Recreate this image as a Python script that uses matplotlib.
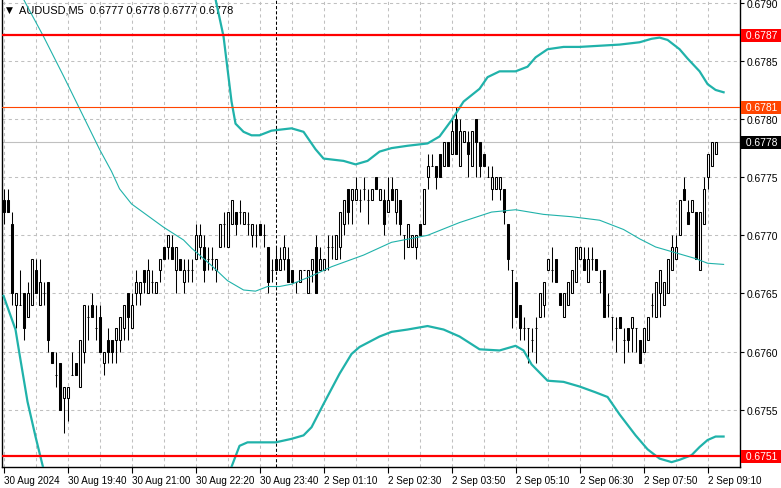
import matplotlib
matplotlib.use("Agg")
import matplotlib.pyplot as plt
import matplotlib.transforms as mtransforms

plt.rcParams['font.family'] = ['Liberation Sans', 'DejaVu Sans']

# OHLC of each 5-minute bar, in units of 0.0001
opens = [6773, 6773, 6771, 6764, 6764, 6765, 6763, 6764, 6767, 6764,
         6765, 6766, 6760, 6758, 6759, 6756, 6756, 6758, 6759, 6757,
         6760, 6763, 6764, 6762, 6763, 6759, 6761, 6761, 6761, 6761,
         6762, 6765, 6762, 6765, 6765, 6767, 6765, 6766, 6765, 6767,
         6769, 6769, 6769, 6767, 6768, 6766, 6767, 6767, 6768, 6769,
         6769, 6768, 6768, 6767, 6769, 6771, 6769, 6771, 6772, 6772,
         6771, 6771, 6770, 6770, 6771, 6770, 6769, 6767, 6768, 6767,
         6768, 6768, 6767, 6766, 6766, 6767, 6765, 6767, 6769, 6767,
         6767, 6769, 6769, 6768, 6769, 6771, 6774, 6773, 6773, 6773,
         6774, 6773, 6773, 6775, 6773, 6773, 6772, 6774, 6772, 6773,
         6770, 6769, 6769, 6769, 6771, 6771, 6775, 6776, 6776, 6777,
         6776, 6778, 6777, 6780, 6776, 6778, 6778, 6776, 6780, 6778,
         6777, 6775, 6774, 6774, 6774, 6774, 6771, 6767, 6766, 6764,
         6762, 6762, 6761, 6762, 6763, 6764, 6767, 6767, 6768, 6765,
         6763, 6764, 6765, 6766, 6768, 6768, 6766, 6768, 6768, 6766,
         6767, 6764, 6763, 6762, 6763, 6761, 6762, 6762, 6762, 6761,
         6760, 6761, 6764, 6763, 6765, 6764, 6765, 6767, 6768, 6770,
         6774, 6772, 6772, 6772, 6767, 6771, 6775, 6776, 6777]
highs = [6774, 6774, 6772, 6765, 6767, 6765, 6766, 6768, 6768, 6768,
         6766, 6766, 6760, 6760, 6759, 6757, 6757, 6760, 6759, 6761,
         6764, 6764, 6765, 6764, 6764, 6760, 6762, 6761, 6762, 6763,
         6764, 6765, 6765, 6767, 6766, 6767, 6768, 6767, 6766, 6768,
         6769, 6770, 6770, 6769, 6768, 6768, 6768, 6768, 6771, 6771,
         6770, 6769, 6769, 6768, 6771, 6772, 6772, 6773, 6772, 6773,
         6772, 6772, 6771, 6771, 6771, 6771, 6769, 6768, 6769, 6769,
         6770, 6769, 6767, 6766, 6767, 6767, 6767, 6768, 6770, 6769,
         6768, 6770, 6770, 6770, 6772, 6773, 6774, 6774, 6775, 6774,
         6775, 6774, 6774, 6775, 6774, 6774, 6775, 6775, 6774, 6773,
         6770, 6771, 6770, 6770, 6771, 6774, 6777, 6777, 6776, 6777,
         6778, 6778, 6780, 6781, 6780, 6779, 6779, 6779, 6780, 6778,
         6777, 6776, 6776, 6775, 6775, 6774, 6771, 6767, 6766, 6764,
         6763, 6762, 6762, 6763, 6765, 6766, 6768, 6769, 6768, 6765,
         6765, 6766, 6767, 6769, 6769, 6769, 6769, 6769, 6768, 6767,
         6767, 6765, 6763, 6763, 6763, 6762, 6762, 6763, 6762, 6761,
         6762, 6763, 6765, 6766, 6767, 6766, 6768, 6770, 6770, 6773,
         6775, 6773, 6773, 6772, 6772, 6775, 6777, 6778, 6778]
lows = [6771, 6772, 6764, 6762, 6764, 6761, 6763, 6764, 6765, 6764,
        6764, 6760, 6759, 6757, 6755, 6753, 6754, 6758, 6758, 6757,
        6759, 6761, 6763, 6761, 6760, 6758, 6759, 6759, 6759, 6760,
        6761, 6761, 6762, 6764, 6764, 6765, 6765, 6765, 6765, 6766,
        6768, 6768, 6768, 6765, 6767, 6765, 6766, 6766, 6768, 6768,
        6766, 6767, 6767, 6766, 6769, 6769, 6769, 6771, 6770, 6771,
        6771, 6770, 6769, 6769, 6770, 6769, 6765, 6766, 6767, 6767,
        6767, 6766, 6766, 6765, 6766, 6767, 6765, 6766, 6765, 6767,
        6767, 6767, 6768, 6768, 6768, 6770, 6771, 6771, 6773, 6772,
        6773, 6771, 6773, 6774, 6773, 6770, 6772, 6773, 6771, 6770,
        6768, 6769, 6769, 6768, 6770, 6771, 6774, 6776, 6774, 6775,
        6776, 6776, 6777, 6777, 6776, 6778, 6775, 6776, 6775, 6775,
        6776, 6775, 6773, 6774, 6773, 6771, 6767, 6762, 6763, 6761,
        6761, 6759, 6760, 6759, 6763, 6763, 6767, 6766, 6766, 6764,
        6763, 6764, 6765, 6766, 6768, 6767, 6766, 6767, 6767, 6765,
        6763, 6763, 6761, 6760, 6762, 6759, 6760, 6760, 6760, 6759,
        6760, 6761, 6763, 6763, 6763, 6764, 6765, 6767, 6768, 6770,
        6773, 6771, 6772, 6768, 6767, 6771, 6774, 6776, 6777]
closes = [6772, 6772, 6765, 6765, 6764, 6762, 6765, 6768, 6765, 6766,
          6765, 6761, 6759, 6758, 6755, 6757, 6757, 6758, 6758, 6761,
          6764, 6763, 6763, 6762, 6760, 6760, 6760, 6760, 6762, 6763,
          6764, 6763, 6764, 6766, 6766, 6766, 6767, 6766, 6766, 6768,
          6768, 6770, 6768, 6769, 6767, 6767, 6767, 6767, 6770, 6770,
          6767, 6768, 6768, 6768, 6771, 6771, 6772, 6773, 6771, 6772,
          6772, 6771, 6771, 6770, 6770, 6770, 6766, 6767, 6767, 6768,
          6769, 6766, 6766, 6766, 6767, 6767, 6767, 6768, 6765, 6768,
          6768, 6769, 6769, 6770, 6772, 6773, 6772, 6774, 6774, 6773,
          6774, 6773, 6774, 6774, 6774, 6771, 6773, 6773, 6774, 6771,
          6770, 6771, 6770, 6770, 6770, 6774, 6776, 6776, 6775, 6775,
          6778, 6776, 6779, 6777, 6779, 6779, 6777, 6779, 6778, 6776,
          6776, 6775, 6775, 6775, 6775, 6772, 6768, 6767, 6763, 6762,
          6762, 6762, 6761, 6762, 6765, 6766, 6768, 6767, 6766, 6764,
          6765, 6766, 6767, 6769, 6769, 6767, 6768, 6768, 6767, 6766,
          6763, 6764, 6763, 6762, 6762, 6761, 6761, 6763, 6762, 6759,
          6762, 6763, 6764, 6766, 6767, 6766, 6768, 6769, 6769, 6773,
          6773, 6771, 6773, 6768, 6772, 6774, 6777, 6778, 6778]

# Bollinger bands: (bar index, price in 0.0001)
upper_bars = [50, 53, 55, 57, 58, 60, 62, 64, 67, 72, 75, 78, 80, 85, 88, 91, 94, 97,
              101, 106, 109, 112, 115, 119, 121, 124, 128, 131, 133, 136, 140, 144,
              149, 154, 159, 162, 164, 166, 169, 171, 174, 176, 178, 180]
upper_vals = [6795.0, 6790.3, 6787.1, 6781.5, 6779.6, 6778.9, 6778.6, 6778.6, 6779.0,
              6779.2, 6778.9, 6777.4, 6776.6, 6776.4, 6776.1, 6776.4, 6777.2, 6777.5,
              6777.7, 6777.9, 6778.5, 6779.9, 6781.5, 6782.6, 6783.6, 6784.1, 6784.1,
              6784.5, 6785.3, 6786.0, 6786.2, 6786.2, 6786.3, 6786.4, 6786.6, 6786.9,
              6787.0, 6786.8, 6786.0, 6785.2, 6784.1, 6783.0, 6782.5, 6782.3]
middle_bars = [4, 5, 10, 15, 20, 24, 27, 29, 32, 40, 45, 47, 52, 56, 60, 63, 66, 69, 72,
               77, 82, 90, 97, 106, 114, 122, 128, 135, 142, 149, 155, 159, 163, 169,
               173, 176, 180]
middle_vals = [6791.0, 6790.3, 6787.1, 6783.7, 6780.2, 6777.4, 6775.5, 6774.0, 6772.7,
               6770.7, 6769.6, 6768.9, 6767.4, 6766.1, 6765.3, 6765.2, 6765.6, 6765.6,
               6765.8, 6766.5, 6767.3, 6768.3, 6769.4, 6770.0, 6771.1, 6772.0, 6772.2,
               6771.8, 6771.6, 6771.3, 6770.5, 6769.7, 6769.0, 6768.4, 6768.0, 6767.6,
               6767.5]
lower_bars_a = [0, 3, 4, 6, 8, 10, 12]
lower_vals_a = [6764.8, 6761.9, 6759.8, 6755.7, 6752.7, 6749.9, 6747.0]
lower_bars_b = [55, 57, 59, 61, 66, 68, 72, 75, 77, 80, 84, 87, 89, 94, 97, 101, 106,
                110, 114, 119, 124, 128, 130, 132, 136, 140, 144, 148, 151, 154, 158,
                161, 164, 167, 169, 172, 174, 176, 178, 180]
lower_vals_b = [6748.0, 6750.1, 6751.9, 6752.2, 6752.2, 6752.2, 6752.5, 6752.8, 6753.5,
                6755.5, 6758.1, 6759.8, 6760.4, 6761.3, 6761.7, 6761.9, 6762.2, 6761.9,
                6761.3, 6760.2, 6760.1, 6760.5, 6760.1, 6758.9, 6757.5, 6757.4, 6757.0,
                6756.5, 6756.1, 6754.6, 6752.8, 6751.6, 6750.8, 6750.5, 6750.7, 6751.1,
                6751.8, 6752.4, 6752.7, 6752.7]

# x axis labels, one every 16 bars
tick_bars = [0, 16, 32, 48, 64, 80, 96, 112, 128, 144, 160, 176]
tick_labels = ['30 Aug 2024', '30 Aug 19:40', '30 Aug 21:00', '30 Aug 22:20',
               '30 Aug 23:40', '2 Sep 01:10', '2 Sep 02:30', '2 Sep 03:50',
               '2 Sep 05:10', '2 Sep 06:30', '2 Sep 07:50', '2 Sep 09:10']
price_ticks = [0.6755, 0.6760, 0.6765, 0.6770, 0.6775, 0.6780, 0.6785, 0.6790]
day_break_bar = 68

# horizontal levels: (price, line colour, line width, box colour, label)
levels = [(0.67872, '#ff0000', 1.6, '#ff0000', '0.6787'),
          (0.6781, '#ff4500', 0.8, '#ff4500', '0.6781'),
          (0.6751, '#ff0000', 1.6, '#ff0000', '0.6751')]
last_price = 0.6778
title = 'AUDUSD,M5  0.6777 0.6778 0.6777 0.6778'

teal = '#20b2aa'
P = 10000.0

fig = plt.figure(figsize=(7.81, 4.89), dpi=100)
ax = fig.add_axes([2 / 781, 21 / 489, 738 / 781, 468 / 489])

# grid
for b in range(0, 185, 8):
    ax.axvline(b, color='#c0c0c0', lw=0.75, ls=(0, (3, 3)), zorder=0)
for p in price_ticks:
    ax.axhline(p, color='#c0c0c0', lw=0.75, ls=(0, (3, 3)), zorder=0)

# day separator
ax.axvline(day_break_bar, color='black', lw=0.75, ls=(0, (3, 2)), zorder=1)

# current price line
ax.axhline(last_price, color='#c0c0c0', lw=0.8, zorder=1)

# candles
n = len(opens)
xs = list(range(n))
ax.vlines(xs, [v / P for v in lows], [v / P for v in highs], color='black', lw=0.75, zorder=2)
bottoms = [min(o, c) / P for o, c in zip(opens, closes)]
heights = [abs(c - o) / P for o, c in zip(opens, closes)]
fills = ['white' if c >= o else 'black' for o, c in zip(opens, closes)]
ax.bar(xs, heights, bottom=bottoms, width=0.5, color=fills, edgecolor='black',
       linewidth=0.75, zorder=3)

# bollinger bands
ax.plot(upper_bars, [v / P for v in upper_vals], color=teal, lw=1.6, zorder=4)
ax.plot(middle_bars, [v / P for v in middle_vals], color=teal, lw=0.8, zorder=4)
ax.plot(lower_bars_a, [v / P for v in lower_vals_a], color=teal, lw=1.6, zorder=4)
ax.plot(lower_bars_b, [v / P for v in lower_vals_b], color=teal, lw=1.6, zorder=4)

# level lines
for price, col, lw, box, txt in levels:
    ax.axhline(price, color=col, lw=lw, zorder=5)

ax.set_xlim(-0.375, 184.1)
ax.set_ylim(0.675008, 0.679032)

# axes styling
for s in ['left', 'right', 'bottom']:
    ax.spines[s].set_color('black')
    ax.spines[s].set_linewidth(1.0)
ax.spines['top'].set_visible(False)

ax.yaxis.tick_right()
ax.set_yticks(price_ticks)
ax.set_yticklabels(['%.4f' % p for p in price_ticks])
ax.tick_params(axis='y', direction='out', length=3, width=0.8, labelsize=7.4, pad=1.5)

ax.set_xticks(tick_bars)
ax.set_xticklabels(tick_labels, ha='left')
ax.tick_params(axis='x', direction='out', length=4, width=0.8, labelsize=7.1, pad=2)

# price boxes on the right scale
trans = mtransforms.blended_transform_factory(ax.transAxes, ax.transData)
for price, col, lw, box, txt in levels:
    ax.text(1.004, price, ' ' + txt + ' ', transform=trans, ha='left', va='center',
            fontsize=7.4, color='white', clip_on=False, zorder=10,
            bbox=dict(boxstyle='square,pad=0.15', fc=box, ec='none'))
ax.text(1.004, last_price, ' 0.6778 ', transform=trans, ha='left', va='center',
        fontsize=7.4, color='white', clip_on=False, zorder=10,
        bbox=dict(boxstyle='square,pad=0.15', fc='black', ec='none'))

# title
ax.text(0.005, 0.977, '\u25bc', transform=ax.transAxes, fontsize=6.5,
        family=['DejaVu Sans'], va='center', ha='left')
ax.text(0.023, 0.977, title, transform=ax.transAxes, fontsize=7.9,
        va='center', ha='left')

fig.savefig('out.png', dpi=100)
